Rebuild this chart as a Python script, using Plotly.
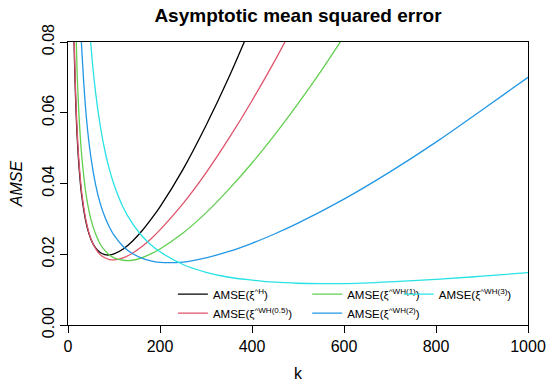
import plotly.graph_objects as go

# AMSE curves of the tail-index estimators as a function of k
k_h = [10, 15, 20, 25, 30, 40, 50, 60, 70, 80, 90, 100, 120, 140, 160, 180, 200, 250, 300, 350, 400]
amse_h = [0.1050, 0.0703, 0.0531, 0.0430, 0.0364, 0.0285, 0.0242, 0.0218, 0.0205, 0.0199, 0.0198,
          0.0201, 0.0215, 0.0237, 0.0265, 0.0298, 0.0334, 0.0440, 0.0564, 0.0701, 0.0852]

k_wh05 = [10, 15, 20, 25, 30, 40, 50, 60, 70, 80, 90, 100, 120, 140, 160, 180, 200, 250, 300, 350,
          400, 450, 500]
amse_wh05 = [0.1084, 0.0726, 0.0548, 0.0442, 0.0373, 0.0290, 0.0243, 0.0216, 0.0199, 0.0190, 0.0185,
             0.0184, 0.0190, 0.0203, 0.0221, 0.0243, 0.0269, 0.0343, 0.0430, 0.0528, 0.0634, 0.0748,
             0.0870]

k_wh1 = [10, 15, 20, 25, 30, 40, 50, 60, 70, 80, 90, 100, 120, 140, 160, 180, 200, 250, 300, 350,
         400, 450, 500, 550, 600]
amse_wh1 = [0.1406, 0.0939, 0.0707, 0.0568, 0.0476, 0.0363, 0.0298, 0.0257, 0.0229, 0.0211, 0.0198,
            0.0190, 0.0183, 0.0183, 0.0190, 0.0201, 0.0215, 0.0260, 0.0317, 0.0384, 0.0458, 0.0539,
            0.0626, 0.0718, 0.0816]

k_wh2 = [20, 25, 30, 40, 50, 60, 70, 80, 90, 100, 120, 140, 160, 180, 200, 250, 300, 350, 400, 450,
         500, 600, 700, 800, 900, 1000]
amse_wh2 = [0.1163, 0.0932, 0.0778, 0.0586, 0.0472, 0.0397, 0.0344, 0.0306, 0.0277, 0.0254, 0.0222,
            0.0202, 0.0189, 0.0181, 0.0177, 0.0178, 0.0190, 0.0208, 0.0231, 0.0258, 0.0288, 0.0356,
            0.0433, 0.0517, 0.0608, 0.0700]

k_wh3 = [40, 50, 60, 70, 80, 90, 100, 120, 140, 160, 180, 200, 250, 300, 350, 400, 450, 500, 550,
         600, 700, 800, 900, 1000]
amse_wh3 = [0.0984, 0.0788, 0.0657, 0.0564, 0.0494, 0.0440, 0.0397, 0.0332, 0.0287, 0.0253, 0.0227,
            0.0207, 0.0171, 0.0149, 0.0135, 0.0127, 0.0121, 0.0118, 0.0117, 0.0117, 0.0122, 0.0129,
            0.0138, 0.0148]

x_ticks = [0, 200, 400, 600, 800, 1000]
y_ticks = [0.00, 0.02, 0.04, 0.06, 0.08]
y_tick_text = ["0.00", "0.02", "0.04", "0.06", "0.08"]

FONT = "Liberation Sans, Arial, Helvetica, sans-serif"

series = [
    (k_h, amse_h, "#000000", "AMSE(ξ<sup>^H</sup>)", "legend"),
    (k_wh05, amse_wh05, "#DF536B", "AMSE(ξ<sup>^WH(0.5)</sup>)", "legend"),
    (k_wh1, amse_wh1, "#61D04F", "AMSE(ξ<sup>^WH(1)</sup>)", "legend2"),
    (k_wh2, amse_wh2, "#2297E6", "AMSE(ξ<sup>^WH(2)</sup>)", "legend2"),
    (k_wh3, amse_wh3, "#28E2E5", "AMSE(ξ<sup>^WH(3)</sup>)", "legend3"),
]

fig = go.Figure()
for kx, vy, col, name, leg in series:
    fig.add_trace(go.Scatter(
        x=kx, y=vy, mode="lines", name=name, legend=leg,
        line=dict(color=col, width=1.3, shape="spline"),
    ))

legend_common = dict(
    orientation="v", yanchor="top", xanchor="left",
    bgcolor="rgba(0,0,0,0)", borderwidth=0,
    font=dict(family=FONT, size=11.5, color="#000000"),
    itemwidth=30, tracegroupgap=0,
)

fig.update_layout(
    width=548, height=382,
    margin=dict(l=68, r=20, t=42, b=57, autoexpand=False),
    paper_bgcolor="white", plot_bgcolor="white",
    font=dict(family=FONT, size=16, color="#000000"),
    title=dict(
        text="<b>Asymptotic mean squared error</b>",
        x=0.5, xref="paper", xanchor="center",
        y=1 - 15 / 382, yref="container", yanchor="middle",
        font=dict(family=FONT, size=19, color="#000000"),
    ),
    xaxis=dict(
        range=[0, 1000], tickvals=x_ticks, ticktext=[str(v) for v in x_ticks],
        showgrid=False, zeroline=False, automargin=False,
        showline=True, linecolor="#000000", linewidth=1, mirror=True,
        ticks="outside", ticklen=7, tickcolor="#000000",
        title=dict(text="k", font=dict(size=16), standoff=14),
        tickfont=dict(size=16),
    ),
    yaxis=dict(
        range=[0, 0.08], tickvals=y_ticks, ticktext=y_tick_text,
        showgrid=False, zeroline=False, automargin=False,
        showline=True, linecolor="#000000", linewidth=1, mirror=True,
        ticks="outside", ticklen=7, tickcolor="#000000",
        tickangle=-90, tickfont=dict(size=16),
        title=dict(text="<i>AMSE</i>", font=dict(size=16), standoff=12),
    ),
    legend=dict(x=0.228, y=0.16, **legend_common),
    legend2=dict(x=0.52, y=0.16, **legend_common),
    legend3=dict(x=0.719, y=0.16, **legend_common),
)

fig.write_html("out.html")
